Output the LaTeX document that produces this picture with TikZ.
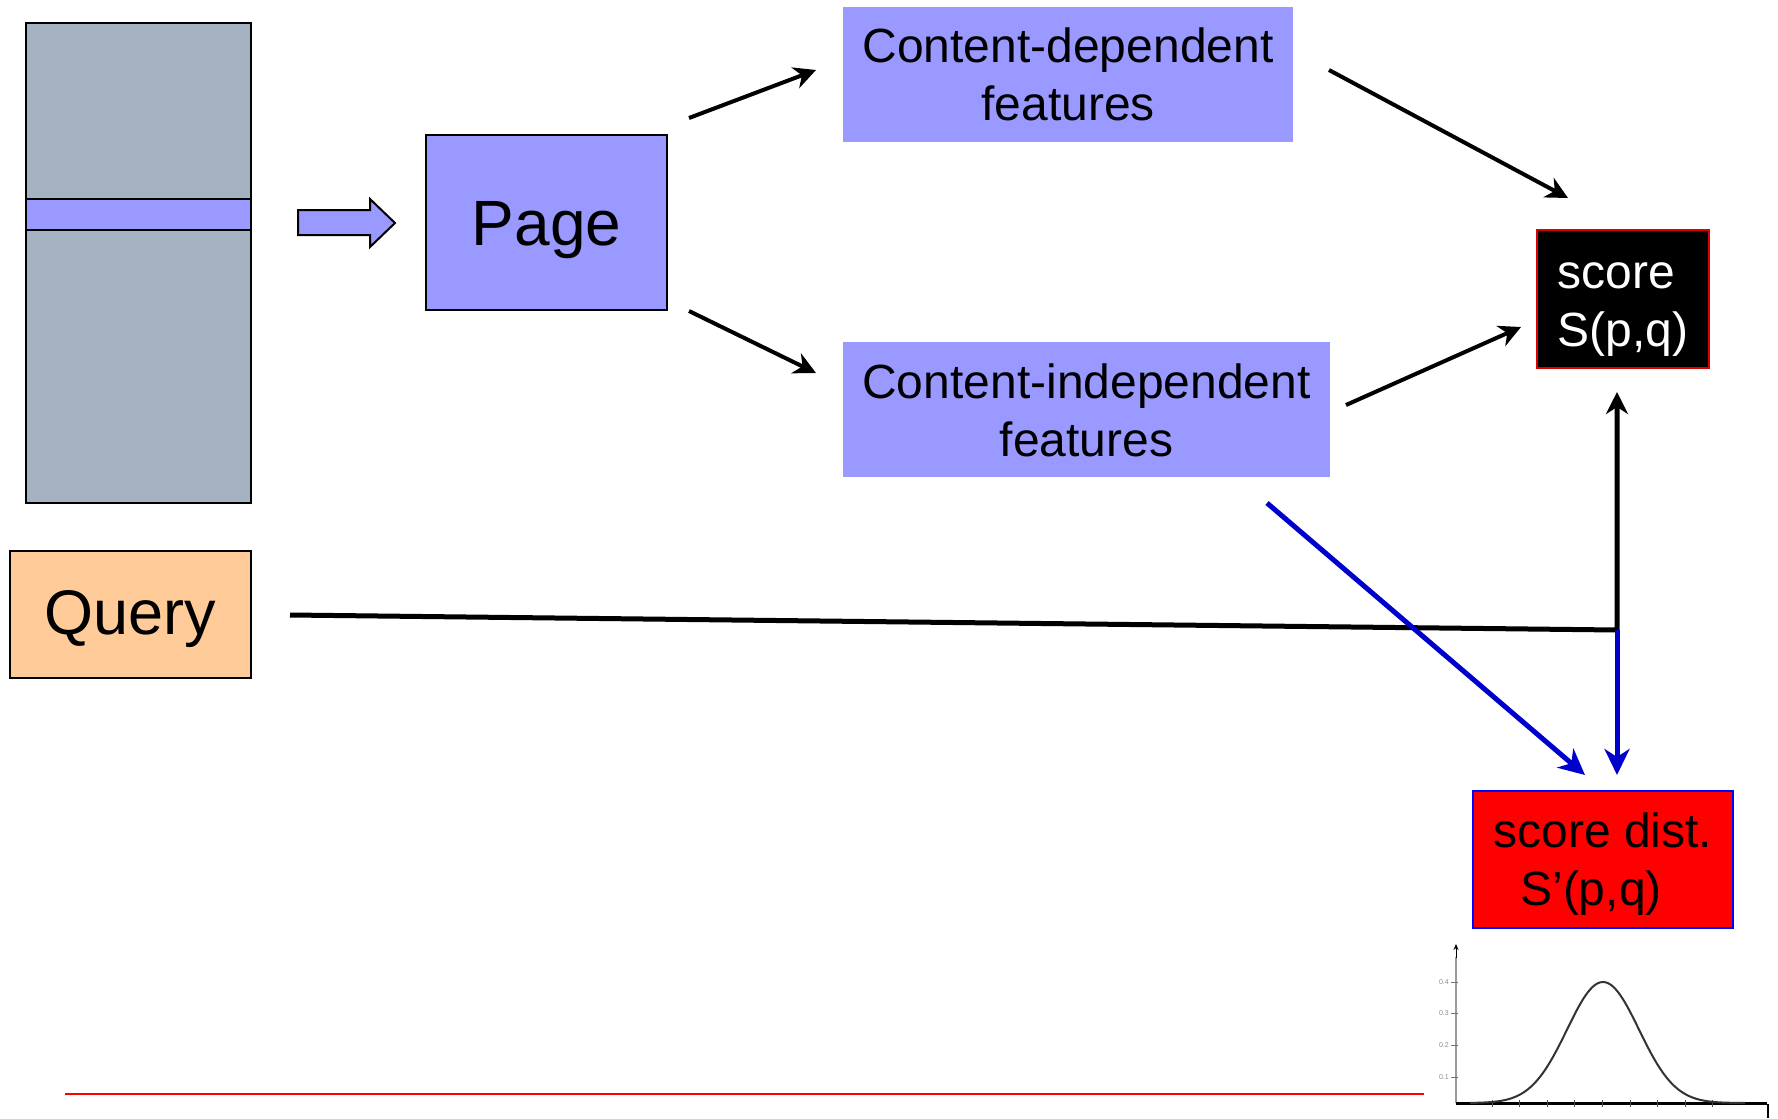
\documentclass[tikz,border=0pt]{standalone}
\usepackage{fontspec}
\setmainfont{Liberation Sans}
\usetikzlibrary{arrows.meta}

\definecolor{docgray}{HTML}{A4B2C1}
\definecolor{featblue}{HTML}{9999FF}
\definecolor{querytan}{HTML}{FFCC99}
\definecolor{linkblue}{HTML}{0000CC}
\definecolor{scorered}{HTML}{FF0000}

\begin{document}
\begin{tikzpicture}[x=1pt,y=-1pt,
  box/.style={rectangle, inner sep=0pt, align=center,
              font=\fontsize{48}{58}\selectfont},
  feat/.style={box, fill=featblue, text depth=0pt},
  docbox/.style={rectangle, inner sep=0pt, draw=black, line width=2pt, fill=docgray},
  blackarrow/.style={line width=4pt, -{Stealth[length=22pt,width=22pt,inset=7pt]}},
  bluearrow/.style={line width=5pt, draw=linkblue, -{Stealth[length=26pt,width=25pt,inset=8pt]}},
  queryline/.style={line width=5pt, line join=miter, -{Stealth[length=22pt,width=22pt,inset=7pt]}},
]
\useasboundingbox (0,0) rectangle (1778,1119);
\fill[white] (0,0) rectangle (1778,1119);

% document column with the highlighted page band
\node[docbox, minimum width=225pt, minimum height=480pt] (doc) at (138.5,263) {};
\node[docbox, fill=featblue, minimum width=225pt, minimum height=31pt] (band) at (138.5,214.5) {};

% block arrow from the column to the page
\draw[fill=featblue, draw=black, line width=2pt, line join=miter]
  (298,210) -- (370,210) -- (370,199) -- (395,223) -- (370,247) -- (370,235) -- (298,235) -- cycle;

% boxes
\node[box, draw=black, line width=2pt, fill=featblue, minimum width=241pt, minimum height=175pt,
      font=\fontsize{64}{76}\selectfont, text height=46pt, text depth=0pt] (page) at (546.5,222.5) {Page};

\node[feat, minimum width=450pt, minimum height=135pt, text height=91pt] (cdep) at (1068,74.5)
  {Content-dependent\\features};
\node[feat, minimum width=487pt, minimum height=135pt, text height=93pt] (cind) at (1086.5,409.5)
  {Content-independent\\features};

\node[box, align=left, fill=black, draw=scorered!85!black, line width=2pt, text=white,
      minimum width=172pt, minimum height=138pt, text height=94pt, text depth=0pt]
      (score) at (1623,299) {score\\S(p,q)};

\node[box, fill=scorered, draw=blue, line width=2pt,
      minimum width=260pt, minimum height=137pt, text height=91pt, text depth=0pt]
      (dist) at (1603,859.5) {score dist.\\S’(p,q)\kern24pt};

\node[box, draw=black, line width=2pt, fill=querytan, minimum width=241pt, minimum height=127pt,
      font=\fontsize{63}{74}\selectfont, text height=40pt, text depth=0pt] (query) at (130.5,614.5) {Query};

% arrow end points
\coordinate (pcd0) at (689,118);   \coordinate (pcd1) at (816,70);
\coordinate (pci0) at (689,311);   \coordinate (pci1) at (816,373);
\coordinate (cds0) at (1329,70);   \coordinate (cds1) at (1568,198);
\coordinate (cis0) at (1346,405);  \coordinate (cis1) at (1521,327);
\coordinate (q0)   at (290,615);
\coordinate (jn)   at (1617,630);
\coordinate (sup1) at (1617,392);
\coordinate (dn1)  at (1617,775);
\coordinate (bd0)  at (1267,503);  \coordinate (bd1) at (1585,775);

% connectors
\draw[blackarrow] (pcd0) -- (pcd1);
\draw[blackarrow] (pci0) -- (pci1);
\draw[blackarrow] (cds0) -- (cds1);
\draw[blackarrow] (cis0) -- (cis1);
\draw[queryline] (q0) -- (jn) -- (sup1);
\draw[bluearrow] (jn) -- (dn1);
\draw[bluearrow] (bd0) -- (bd1);

% separator rule
\coordinate (r0) at (65,1094); \coordinate (r1) at (1424,1094);
\draw[red, line width=1.2pt] (r0) -- (r1);

% normal distribution sketch
\coordinate (po) at (1456,1103);
\coordinate (py) at (1456,944);
\coordinate (px) at (1767,1103);
\draw[black!40, line width=2.5pt] (po) -- (1456,957);
\draw[line width=1pt, -{Stealth[length=6pt,width=5pt]}] (1456,958) -- (py);
\foreach \yy/\lab in {982/0.4,1013/0.3,1045/0.2,1077/0.1}{
  \draw[black!55, line width=1pt] (1451,\yy) -- (1458,\yy);
  \node[anchor=east, inner sep=0pt, text=black!45, font=\fontsize{7}{8}\selectfont] at (1449,\yy) {\lab};
}
\draw[line width=3pt] (po) -- (px);
\foreach \k in {0,...,8}{
  \draw[black!70, line width=1pt] ({1492+27.6*\k},1100) -- ++(0,7);
}
\draw[line width=2pt] (1768,1104) -- (1768,1118);
\draw[black!80, line width=2pt] plot[domain=1470:1745, samples=120, smooth]
  (\x,{1103-121*exp(-0.5*((\x-1603)/36)^2)});
\end{tikzpicture}
\end{document}
